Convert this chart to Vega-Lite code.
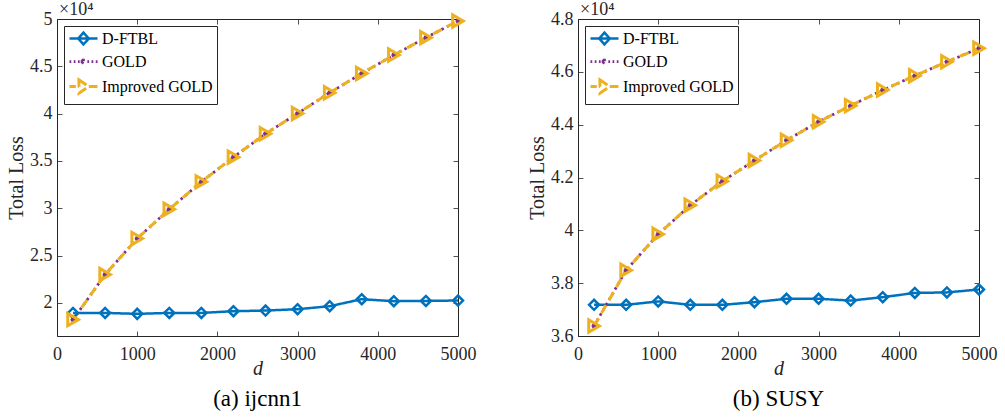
{
  "$schema": "https://vega.github.io/schema/vega-lite/v6.json",
  "padding": {"left": 6, "top": 0, "right": 5, "bottom": 2},
  "spacing": 50,
  "datasets": {
    "loss": [
      {"panel": "ijcnn1", "series": "D-FTBL", "d": 200, "loss": 18940},
      {"panel": "ijcnn1", "series": "D-FTBL", "d": 600, "loss": 18940},
      {"panel": "ijcnn1", "series": "D-FTBL", "d": 1000, "loss": 18840},
      {"panel": "ijcnn1", "series": "D-FTBL", "d": 1400, "loss": 18940},
      {"panel": "ijcnn1", "series": "D-FTBL", "d": 1800, "loss": 18940},
      {"panel": "ijcnn1", "series": "D-FTBL", "d": 2200, "loss": 19120},
      {"panel": "ijcnn1", "series": "D-FTBL", "d": 2600, "loss": 19190},
      {"panel": "ijcnn1", "series": "D-FTBL", "d": 3000, "loss": 19330},
      {"panel": "ijcnn1", "series": "D-FTBL", "d": 3400, "loss": 19650},
      {"panel": "ijcnn1", "series": "D-FTBL", "d": 3800, "loss": 20390},
      {"panel": "ijcnn1", "series": "D-FTBL", "d": 4200, "loss": 20180},
      {"panel": "ijcnn1", "series": "D-FTBL", "d": 4600, "loss": 20210},
      {"panel": "ijcnn1", "series": "D-FTBL", "d": 5000, "loss": 20250},
      {"panel": "ijcnn1", "series": "GOLD", "d": 200, "loss": 18230},
      {"panel": "ijcnn1", "series": "GOLD", "d": 600, "loss": 22990},
      {"panel": "ijcnn1", "series": "GOLD", "d": 1000, "loss": 26800},
      {"panel": "ijcnn1", "series": "GOLD", "d": 1400, "loss": 29900},
      {"panel": "ijcnn1", "series": "GOLD", "d": 1800, "loss": 32790},
      {"panel": "ijcnn1", "series": "GOLD", "d": 2200, "loss": 35400},
      {"panel": "ijcnn1", "series": "GOLD", "d": 2600, "loss": 37870},
      {"panel": "ijcnn1", "series": "GOLD", "d": 3000, "loss": 40020},
      {"panel": "ijcnn1", "series": "GOLD", "d": 3400, "loss": 42210},
      {"panel": "ijcnn1", "series": "GOLD", "d": 3800, "loss": 44250},
      {"panel": "ijcnn1", "series": "GOLD", "d": 4200, "loss": 46190},
      {"panel": "ijcnn1", "series": "GOLD", "d": 4600, "loss": 48030},
      {"panel": "ijcnn1", "series": "GOLD", "d": 5000, "loss": 49790},
      {"panel": "ijcnn1", "series": "Improved GOLD", "d": 200, "loss": 18230},
      {"panel": "ijcnn1", "series": "Improved GOLD", "d": 600, "loss": 22990},
      {"panel": "ijcnn1", "series": "Improved GOLD", "d": 1000, "loss": 26800},
      {"panel": "ijcnn1", "series": "Improved GOLD", "d": 1400, "loss": 29900},
      {"panel": "ijcnn1", "series": "Improved GOLD", "d": 1800, "loss": 32790},
      {"panel": "ijcnn1", "series": "Improved GOLD", "d": 2200, "loss": 35400},
      {"panel": "ijcnn1", "series": "Improved GOLD", "d": 2600, "loss": 37870},
      {"panel": "ijcnn1", "series": "Improved GOLD", "d": 3000, "loss": 40020},
      {"panel": "ijcnn1", "series": "Improved GOLD", "d": 3400, "loss": 42210},
      {"panel": "ijcnn1", "series": "Improved GOLD", "d": 3800, "loss": 44250},
      {"panel": "ijcnn1", "series": "Improved GOLD", "d": 4200, "loss": 46190},
      {"panel": "ijcnn1", "series": "Improved GOLD", "d": 4600, "loss": 48030},
      {"panel": "ijcnn1", "series": "Improved GOLD", "d": 5000, "loss": 49790},
      {"panel": "SUSY", "series": "D-FTBL", "d": 200, "loss": 37180},
      {"panel": "SUSY", "series": "D-FTBL", "d": 600, "loss": 37180},
      {"panel": "SUSY", "series": "D-FTBL", "d": 1000, "loss": 37310},
      {"panel": "SUSY", "series": "D-FTBL", "d": 1400, "loss": 37180},
      {"panel": "SUSY", "series": "D-FTBL", "d": 1800, "loss": 37180},
      {"panel": "SUSY", "series": "D-FTBL", "d": 2200, "loss": 37280},
      {"panel": "SUSY", "series": "D-FTBL", "d": 2600, "loss": 37410},
      {"panel": "SUSY", "series": "D-FTBL", "d": 3000, "loss": 37410},
      {"panel": "SUSY", "series": "D-FTBL", "d": 3400, "loss": 37340},
      {"panel": "SUSY", "series": "D-FTBL", "d": 3800, "loss": 37470},
      {"panel": "SUSY", "series": "D-FTBL", "d": 4200, "loss": 37630},
      {"panel": "SUSY", "series": "D-FTBL", "d": 4600, "loss": 37650},
      {"panel": "SUSY", "series": "D-FTBL", "d": 5000, "loss": 37760},
      {"panel": "SUSY", "series": "GOLD", "d": 200, "loss": 36380},
      {"panel": "SUSY", "series": "GOLD", "d": 600, "loss": 38490},
      {"panel": "SUSY", "series": "GOLD", "d": 1000, "loss": 39850},
      {"panel": "SUSY", "series": "GOLD", "d": 1400, "loss": 40950},
      {"panel": "SUSY", "series": "GOLD", "d": 1800, "loss": 41860},
      {"panel": "SUSY", "series": "GOLD", "d": 2200, "loss": 42640},
      {"panel": "SUSY", "series": "GOLD", "d": 2600, "loss": 43410},
      {"panel": "SUSY", "series": "GOLD", "d": 3000, "loss": 44110},
      {"panel": "SUSY", "series": "GOLD", "d": 3400, "loss": 44720},
      {"panel": "SUSY", "series": "GOLD", "d": 3800, "loss": 45310},
      {"panel": "SUSY", "series": "GOLD", "d": 4200, "loss": 45850},
      {"panel": "SUSY", "series": "GOLD", "d": 4600, "loss": 46380},
      {"panel": "SUSY", "series": "GOLD", "d": 5000, "loss": 46890},
      {"panel": "SUSY", "series": "Improved GOLD", "d": 200, "loss": 36380},
      {"panel": "SUSY", "series": "Improved GOLD", "d": 600, "loss": 38490},
      {"panel": "SUSY", "series": "Improved GOLD", "d": 1000, "loss": 39850},
      {"panel": "SUSY", "series": "Improved GOLD", "d": 1400, "loss": 40950},
      {"panel": "SUSY", "series": "Improved GOLD", "d": 1800, "loss": 41860},
      {"panel": "SUSY", "series": "Improved GOLD", "d": 2200, "loss": 42640},
      {"panel": "SUSY", "series": "Improved GOLD", "d": 2600, "loss": 43410},
      {"panel": "SUSY", "series": "Improved GOLD", "d": 3000, "loss": 44110},
      {"panel": "SUSY", "series": "Improved GOLD", "d": 3400, "loss": 44720},
      {"panel": "SUSY", "series": "Improved GOLD", "d": 3800, "loss": 45310},
      {"panel": "SUSY", "series": "Improved GOLD", "d": 4200, "loss": 45850},
      {"panel": "SUSY", "series": "Improved GOLD", "d": 4600, "loss": 46380},
      {"panel": "SUSY", "series": "Improved GOLD", "d": 5000, "loss": 46890}
    ]
  },
  "hconcat": [
    {
      "width": 401,
      "height": 317,
      "title": {"text": "(a) ijcnn1", "orient": "bottom", "offset": 10},
      "layer": [
        {
          "data": {"name": "loss"},
          "transform": [{"filter": "datum.panel === 'ijcnn1'"}],
          "mark": {"type": "line"},
          "encoding": {
            "x": {"field": "d", "type": "quantitative", "scale": {"domain": [0, 5000], "nice": false, "zero": false},
                  "axis": {"values": [0, 1000, 2000, 3000, 4000, 5000], "format": "d", "title": "d", "titleFontStyle": "italic", "titlePadding": -5, "labelPadding": 14}},
            "y": {"field": "loss", "type": "quantitative", "scale": {"domain": [16500, 50000], "nice": false, "zero": false},
                  "axis": {"values": [20000, 25000, 30000, 35000, 40000, 45000, 50000], "labelExpr": "format(datum.value / 10000, '.2~f')", "title": "Total Loss"}},
            "color": {"field": "series", "type": "nominal",
                      "scale": {"domain": ["D-FTBL", "GOLD", "Improved GOLD"], "range": ["#0072BD", "#7E2F8E", "#EDB120"]},
                      "legend": {
                        "title": null, "orient": "top-left", "offset": 7,
                        "encode": {"symbols": {"update": {
                          "shape": {"signal": "datum.value === 'D-FTBL' ? 'M-1,0H3M1,-0.85L1.75,0L1,0.85L0.25,0Z' : datum.value === 'GOLD' ? 'M-1,0H-0.75M-0.4,0H-0.15M0.2,0H0.45M1.55,0H1.8M2.15,0H2.4M2.75,0H3M0.6,0H1.4M1,-0.4V0.4M0.72,-0.28L1.28,0.28M0.72,0.28L1.28,-0.28' : 'M-1,0H-0.1M0.2,0H0.35M1.75,0H3M0.35,-0.95L1.75,0L0.35,0.95Z'"},
                          "fill": {"value": "transparent"},
                          "strokeDash": {"value": [1, 0]},
                          "strokeWidth": {"value": 2.2},
                          "size": {"value": 196}
                        }}}
                      }},
            "strokeDash": {"field": "series", "type": "nominal",
                           "scale": {"domain": ["D-FTBL", "GOLD", "Improved GOLD"], "range": [[1, 0], [2.5, 3.5], [9, 6]]},
                           "legend": null},
            "strokeWidth": {"field": "series", "type": "nominal",
                           "scale": {"domain": ["D-FTBL", "GOLD", "Improved GOLD"], "range": [2.5, 3, 2.5]},
                           "legend": null}
          }
        },
        {
          "data": {"name": "loss"},
          "transform": [{"filter": "datum.panel === 'ijcnn1' && datum.series === 'D-FTBL'"}],
          "mark": {"type": "point", "shape": "diamond", "size": 100, "filled": false, "stroke": "#0072BD", "strokeWidth": 2.5, "opacity": 1},
          "encoding": {"x": {"field": "d", "type": "quantitative", "axis": null}, "y": {"field": "loss", "type": "quantitative", "axis": null}}
        },
        {
          "data": {"name": "loss"},
          "transform": [{"filter": "datum.panel === 'ijcnn1' && datum.series === 'GOLD'"}],
          "mark": {"type": "point", "shape": "M-1,0H1M0,-1V1M-0.7,-0.7L0.7,0.7M-0.7,0.7L0.7,-0.7", "size": 25, "filled": false, "stroke": "#7E2F8E", "strokeWidth": 1.5, "opacity": 1},
          "encoding": {"x": {"field": "d", "type": "quantitative", "axis": null}, "y": {"field": "loss", "type": "quantitative", "axis": null}}
        },
        {
          "data": {"name": "loss"},
          "transform": [{"filter": "datum.panel === 'ijcnn1' && datum.series === 'Improved GOLD'"}],
          "mark": {"type": "point", "shape": "triangle-right", "size": 150, "filled": false, "stroke": "#EDB120", "strokeWidth": 3, "opacity": 1},
          "encoding": {"x": {"field": "d", "type": "quantitative", "axis": null}, "y": {"field": "loss", "type": "quantitative", "axis": null}}
        },
        {
          "data": {"values": [{"t": "×10⁴"}]},
          "mark": {"type": "text", "align": "left", "baseline": "alphabetic", "dx": 2, "dy": -4, "fontSize": 18, "color": "#262626"},
          "encoding": {
            "x": {"datum": 0, "type": "quantitative", "axis": {"orient": "top", "labels": false, "title": null, "values": [0, 1000, 2000, 3000, 4000, 5000]}},
            "y": {"datum": 50000, "type": "quantitative", "axis": {"orient": "right", "labels": false, "title": null, "values": [20000, 25000, 30000, 35000, 40000, 45000, 50000]}},
            "text": {"field": "t"}
          }
        }
      ],
      "resolve": {"axis": {"x": "independent", "y": "independent"}}
    },
    {
      "width": 401,
      "height": 317,
      "title": {"text": "(b) SUSY", "orient": "bottom", "offset": 10},
      "layer": [
        {
          "data": {"name": "loss"},
          "transform": [{"filter": "datum.panel === 'SUSY'"}],
          "mark": {"type": "line"},
          "encoding": {
            "x": {"field": "d", "type": "quantitative", "scale": {"domain": [0, 5000], "nice": false, "zero": false},
                  "axis": {"values": [0, 1000, 2000, 3000, 4000, 5000], "format": "d", "title": "d", "titleFontStyle": "italic", "titlePadding": -5, "labelPadding": 14}},
            "y": {"field": "loss", "type": "quantitative", "scale": {"domain": [36000, 48000], "nice": false, "zero": false},
                  "axis": {"values": [36000, 38000, 40000, 42000, 44000, 46000, 48000], "labelExpr": "format(datum.value / 10000, '.2~f')", "title": "Total Loss"}},
            "color": {"field": "series", "type": "nominal",
                      "scale": {"domain": ["D-FTBL", "GOLD", "Improved GOLD"], "range": ["#0072BD", "#7E2F8E", "#EDB120"]},
                      "legend": {
                        "title": null, "orient": "top-left", "offset": 7,
                        "encode": {"symbols": {"update": {
                          "shape": {"signal": "datum.value === 'D-FTBL' ? 'M-1,0H3M1,-0.85L1.75,0L1,0.85L0.25,0Z' : datum.value === 'GOLD' ? 'M-1,0H-0.75M-0.4,0H-0.15M0.2,0H0.45M1.55,0H1.8M2.15,0H2.4M2.75,0H3M0.6,0H1.4M1,-0.4V0.4M0.72,-0.28L1.28,0.28M0.72,0.28L1.28,-0.28' : 'M-1,0H-0.1M0.2,0H0.35M1.75,0H3M0.35,-0.95L1.75,0L0.35,0.95Z'"},
                          "fill": {"value": "transparent"},
                          "strokeDash": {"value": [1, 0]},
                          "strokeWidth": {"value": 2.2},
                          "size": {"value": 196}
                        }}}
                      }},
            "strokeDash": {"field": "series", "type": "nominal",
                           "scale": {"domain": ["D-FTBL", "GOLD", "Improved GOLD"], "range": [[1, 0], [2.5, 3.5], [9, 6]]},
                           "legend": null},
            "strokeWidth": {"field": "series", "type": "nominal",
                           "scale": {"domain": ["D-FTBL", "GOLD", "Improved GOLD"], "range": [2.5, 3, 2.5]},
                           "legend": null}
          }
        },
        {
          "data": {"name": "loss"},
          "transform": [{"filter": "datum.panel === 'SUSY' && datum.series === 'D-FTBL'"}],
          "mark": {"type": "point", "shape": "diamond", "size": 100, "filled": false, "stroke": "#0072BD", "strokeWidth": 2.5, "opacity": 1},
          "encoding": {"x": {"field": "d", "type": "quantitative", "axis": null}, "y": {"field": "loss", "type": "quantitative", "axis": null}}
        },
        {
          "data": {"name": "loss"},
          "transform": [{"filter": "datum.panel === 'SUSY' && datum.series === 'GOLD'"}],
          "mark": {"type": "point", "shape": "M-1,0H1M0,-1V1M-0.7,-0.7L0.7,0.7M-0.7,0.7L0.7,-0.7", "size": 25, "filled": false, "stroke": "#7E2F8E", "strokeWidth": 1.5, "opacity": 1},
          "encoding": {"x": {"field": "d", "type": "quantitative", "axis": null}, "y": {"field": "loss", "type": "quantitative", "axis": null}}
        },
        {
          "data": {"name": "loss"},
          "transform": [{"filter": "datum.panel === 'SUSY' && datum.series === 'Improved GOLD'"}],
          "mark": {"type": "point", "shape": "triangle-right", "size": 150, "filled": false, "stroke": "#EDB120", "strokeWidth": 3, "opacity": 1},
          "encoding": {"x": {"field": "d", "type": "quantitative", "axis": null}, "y": {"field": "loss", "type": "quantitative", "axis": null}}
        },
        {
          "data": {"values": [{"t": "×10⁴"}]},
          "mark": {"type": "text", "align": "left", "baseline": "alphabetic", "dx": 2, "dy": -4, "fontSize": 18, "color": "#262626"},
          "encoding": {
            "x": {"datum": 0, "type": "quantitative", "axis": {"orient": "top", "labels": false, "title": null, "values": [0, 1000, 2000, 3000, 4000, 5000]}},
            "y": {"datum": 48000, "type": "quantitative", "axis": {"orient": "right", "labels": false, "title": null, "values": [36000, 38000, 40000, 42000, 44000, 46000, 48000]}},
            "text": {"field": "t"}
          }
        }
      ],
      "resolve": {"axis": {"x": "independent", "y": "independent"}}
    }
  ],
  "resolve": {
    "scale": {"x": "independent", "y": "independent", "color": "independent", "strokeDash": "independent", "strokeWidth": "independent"},
    "legend": {"color": "independent", "strokeDash": "independent", "strokeWidth": "independent"}
  },
  "config": {
    "font": "Liberation Serif",
    "view": {"stroke": "#262626", "strokeWidth": 1},
    "axis": {
      "grid": false, "domain": false, "labelFlush": false, "labelOverlap": false,
      "tickColor": "#262626", "tickSize": -5, "tickWidth": 0.8,
      "labelFont": "Liberation Serif", "labelFontSize": 18, "labelColor": "#262626", "labelPadding": 10,
      "titleFont": "Liberation Serif", "titleFontSize": 20, "titleFontWeight": "normal", "titleColor": "#262626", "titlePadding": 3
    },
    "legend": {
      "labelFont": "Liberation Serif", "labelFontSize": 16, "labelColor": "black",
      "strokeColor": "#262626", "fillColor": "white", "padding": 4, "rowPadding": 3,
      "symbolSize": 196, "symbolStrokeWidth": 2, "labelOffset": 17, "cornerRadius": 0
    },
    "title": {"font": "Liberation Serif", "fontSize": 23, "fontWeight": "normal", "color": "black"}
  }
}
